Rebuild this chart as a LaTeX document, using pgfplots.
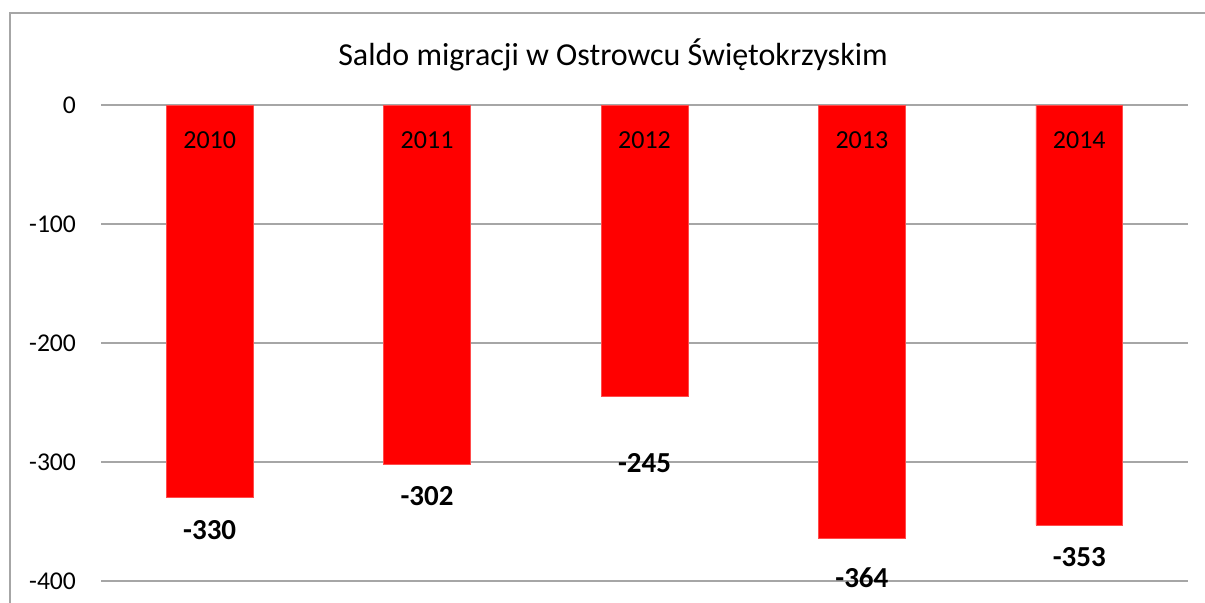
\documentclass[border=0pt]{standalone}
\usepackage{pgfplots}
\pgfplotsset{compat=1.18}
\usepackage{fontspec}
\setmainfont{Carlito}
\definecolor{barred}{HTML}{FF0000}
\definecolor{gridgray}{HTML}{A6A6A6}
\begin{document}
\begin{tikzpicture}[x=1pt,y=1pt]
\useasboundingbox (0,0) rectangle (602.5,301);
\begin{scope}
\clip (0,0) rectangle (602.5,301);
\draw[gridgray, line width=1pt] (5,-5) -- (5,294.5) -- (610,294.5);
\end{scope}
\node[font=\fontsize{16}{19}\selectfont] at (306.5,273.5) {Saldo migracji w Ostrowcu Świętokrzyskim};
\begin{axis}[
  at={(50.5pt,10.5pt)}, anchor=south west,
  scale only axis, width=543.5pt, height=238pt,
  xmin=-0.5, xmax=4.5, ymin=-400, ymax=0,
  ytick={0,-100,-200,-300,-400},
  xtick=\empty,
  axis line style={draw=none},
  major tick length=0pt,
  ymajorgrids, grid style={gridgray, line width=0.75pt},
  yticklabel style={font=\fontsize{12.8}{15}\selectfont, xshift=-9pt},
  /pgf/number format/assume math mode=true,
  clip=false,
]
\addplot[ybar, bar width=0.4, bar shift=0pt, fill=barred, draw=barred!70!white, line width=0.3pt]
  coordinates {(0,-330) (1,-302) (2,-245) (3,-364) (4,-353)};
\addplot[only marks, mark=none, nodes near coords, point meta=explicit symbolic,
  nodes near coords align={center}, every node near coord/.append style={font=\fontsize{13}{15}\selectfont, anchor=center}]
  table[meta=lab] {
x y lab
0 -29.4 2010
1 -29.4 2011
2 -29.4 2012
3 -29.4 2013
4 -29.4 2014
};
\addplot[only marks, mark=none, nodes near coords, point meta=explicit symbolic,
  nodes near coords align={center}, every node near coord/.append style={font=\fontsize{14.5}{17}\bfseries\selectfont, anchor=center}]
  table[meta=lab] {
x y lab
0 -357 -330
1 -328.6 -302
2 -300.8 -245
3 -397.5 -364
4 -380 -353
};
\end{axis}
\end{tikzpicture}
\end{document}
